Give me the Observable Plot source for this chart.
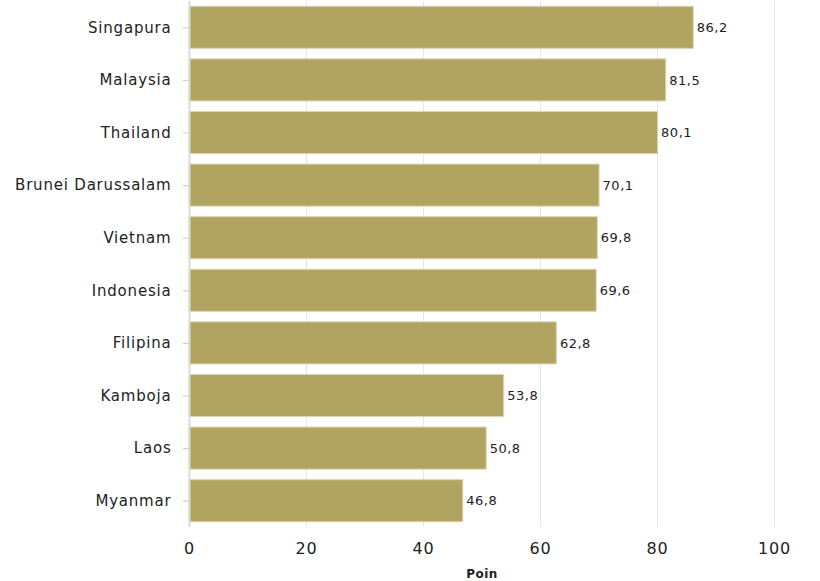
<!DOCTYPE html>
<html>
<head>
<meta charset="utf-8">
<script src="https://cdn.jsdelivr.net/npm/d3@7"></script>
<script src="https://cdn.jsdelivr.net/npm/@observablehq/plot@0.6"></script>
<style>
  html, body { margin: 0; padding: 0; background: #fff; }
  #chart svg { display: block; }
  #chart svg [aria-label="y-axis tick label"] text { letter-spacing: 0.8px; }
  #chart svg [aria-label="x-axis tick label"] text { letter-spacing: 0.8px; }
  #chart svg [aria-label="text"] text { letter-spacing: 0.5px; }
</style>
</head>
<body>
<div id="chart"></div>
<script>
const countries = ["Singapura", "Malaysia", "Thailand", "Brunei Darussalam", "Vietnam", "Indonesia", "Filipina", "Kamboja", "Laos", "Myanmar"];
const scores = [86.2, 81.5, 80.1, 70.1, 69.8, 69.6, 62.8, 53.8, 50.8, 46.8];
const xTicks = [0, 20, 40, 60, 80, 100];
const xLabel = "Poin";

const data = countries.map((c, i) => ({country: c, value: scores[i]}));
const fmt = v => v.toFixed(1).replace(".", ",");

const chart = Plot.plot({
  width: 820,
  height: 581,
  marginTop: 1,
  marginLeft: 189,
  marginRight: 46,
  marginBottom: 54,
  style: {fontFamily: "DejaVu Sans, Verdana, sans-serif", color: "#222", background: "#fff"},
  x: {domain: [0, 100], ticks: xTicks},
  y: {domain: countries, paddingInner: 0.2, paddingOuter: 0.1, round: false},
  marks: [
    Plot.gridX(xTicks, {stroke: "#e6e6e6", strokeOpacity: 1, strokeWidth: 1}),
    Plot.barX(data, {y: "country", x: "value", fill: "#ad9f58", fillOpacity: 0.95, stroke: "#dcd6b0", strokeWidth: 1}),
    Plot.ruleX([0], {stroke: "#dcdcdc", strokeWidth: 2}),
    Plot.text(data, {y: "country", x: "value", text: d => fmt(d.value), textAnchor: "start", dx: 3, fontSize: 13, fill: "#222"}),
    Plot.axisY({tickSize: 6, tickPadding: 12, stroke: "#cccccc", fill: "#222", fontSize: 15, label: null}),
    Plot.axisX(xTicks, {tickSize: 0, tickPadding: 15, fontSize: 16, fill: "#222", label: null, tickFormat: d => d}),
    Plot.text([xLabel], {frameAnchor: "bottom", dy: 50, text: d => d, fontSize: 12, fontWeight: "bold", fill: "#222"})
  ]
});
document.getElementById("chart").appendChild(chart);
</script>
</body>
</html>
